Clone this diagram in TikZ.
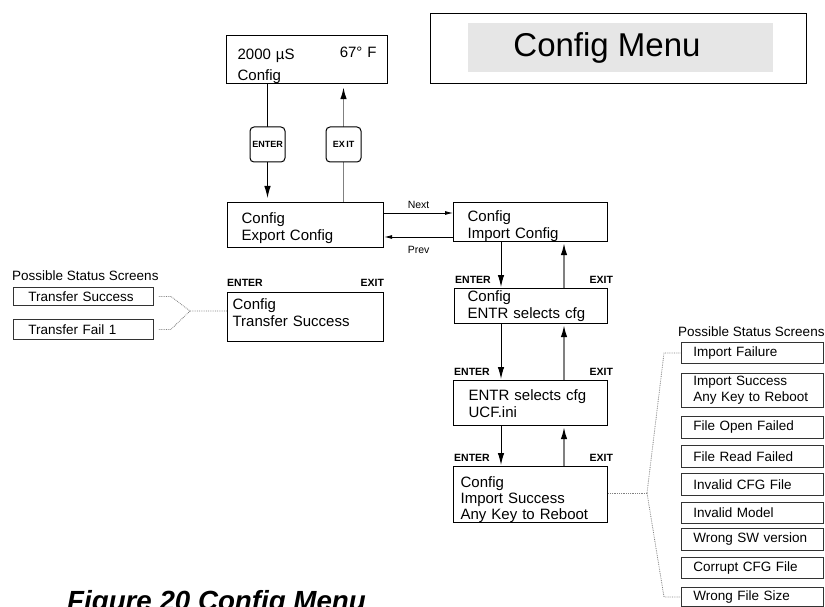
\documentclass[tikz,border=0pt]{standalone}
\usepackage{fontspec}
\setmainfont{Liberation Sans}
\usetikzlibrary{arrows.meta,backgrounds}
\definecolor{gline}{HTML}{808080}
\definecolor{menugray}{HTML}{E6E6E6}
\definecolor{sline}{HTML}{333333}
\newcommand\lowerln[2]{\raisebox{-#1}[\height][\depth]{#2}}
\begin{document}
\begin{tikzpicture}[x=1pt,y=-1pt,
  screen/.style={draw, line width=1.2pt, fill=white, anchor=north west, inner ysep=0pt, align=left, font=\fontsize{15}{17}\selectfont},
  status/.style={draw=sline, line width=0.9pt, fill=white, anchor=north west, inner ysep=0pt, align=left, font=\fontsize{13.5}{16}\selectfont},
  keybox/.style={draw, line width=1pt, fill=white, rounded corners=4pt, minimum width=35, minimum height=35, inner sep=0pt, font=\fontsize{9}{10}\selectfont\bfseries},
  keylbl/.style={inner sep=0pt, font=\fontsize{10.5}{12}\selectfont\bfseries},
  smalllbl/.style={inner sep=0pt, font=\fontsize{10.5}{12}\selectfont},
  title/.style={inner sep=0pt, anchor=west, font=\fontsize{13.5}{16}\selectfont},
  darr/.style={line width=1pt, -{Latex[length=12pt,width=6.5pt]}},
  uarr/.style={gline, line width=1.5pt, -{Latex[length=12pt,width=6.5pt,color=black]}},
  sarr/.style={line width=0.8pt, -{Latex[length=8pt,width=4pt]}},
  dots/.style={densely dotted, gline, line width=0.8pt}
]
\useasboundingbox (0,0) rectangle (825,607);
\clip (0,0) rectangle (825,607);

% Config Menu header
\node[draw, line width=1.2pt, anchor=north west, minimum width=376, minimum height=70, inner sep=0pt] (menuframe) at (430,13) {};
\node[fill=menugray, anchor=north west, minimum width=305, minimum height=49, inner sep=0pt] (menubar) at (468,23) {};
\node[anchor=base, inner sep=0pt, font=\fontsize{33}{36}\selectfont] (menutitle) at (607,57) {Config Menu};

% main screens
\node[screen, minimum width=161, minimum height=48, inner xsep=11pt, text width=139pt, font=\fontsize{15}{21}\selectfont] (top) at (226,35)
  {\lowerln{6pt}{\makebox[139pt]{2000 µS\hfill\raisebox{2pt}{67° F}}}\\\lowerln{6pt}{Config}};
\node[screen, minimum width=156, minimum height=45, inner xsep=14pt, text width=128pt] (exp) at (227,202)
  {\lowerln{3pt}{Config}\\\lowerln{3pt}{Export Config}};
\node[screen, minimum width=154, minimum height=39, inner xsep=14pt, text width=126pt] (imp) at (453,202)
  {\lowerln{4pt}{Config}\\\lowerln{4pt}{Import Config}};
\node[screen, minimum width=156, minimum height=49, inner xsep=5pt, text width=146pt] (tr) at (227,292)
  {\lowerln{-4pt}{Config}\\\lowerln{-4pt}{Transfer Success}};
\node[screen, minimum width=153, minimum height=35, inner xsep=13pt, text width=127pt] (b2) at (454,288)
  {Config\\ENTR selects cfg};
\node[screen, minimum width=154, minimum height=45, inner xsep=15pt, text width=124pt] (b3) at (453,380)
  {\lowerln{1pt}{ENTR selects cfg}\\\lowerln{1pt}{UCF.ini}};
\node[screen, minimum width=154, minimum height=56, inner xsep=7pt, text width=140pt, font=\fontsize{15}{16}\selectfont] (b4) at (453,466)
  {\lowerln{5pt}{Config}\\\lowerln{5pt}{Import Success}\\\lowerln{5pt}{Any Key to Reboot}};

% keys
\node[keybox] (keyE) at (267.5,144.5) {ENTER};
\node[keybox] (keyX) at (343.5,144.5) {EX\,IT};

% ENTER / EXIT labels
\node[keylbl, anchor=base west, yshift=6pt] (trE) at (tr.north west) {ENTER};
\node[keylbl, anchor=base east, yshift=6pt] (trX) at (tr.north east) {EXIT};
\node[keylbl, anchor=base west, yshift=5pt, xshift=1pt] (b2E) at (b2.north west) {ENTER};
\node[keylbl, anchor=base east, yshift=5pt, xshift=5pt] (b2X) at (b2.north east) {EXIT};
\node[keylbl, anchor=base west, yshift=5pt, xshift=1pt] (b3E) at (b3.north west) {ENTER};
\node[keylbl, anchor=base east, yshift=5pt, xshift=5pt] (b3X) at (b3.north east) {EXIT};
\node[keylbl, anchor=base west, yshift=5pt, xshift=1pt] (b4E) at (b4.north west) {ENTER};
\node[keylbl, anchor=base east, yshift=5pt, xshift=5pt] (b4X) at (b4.north east) {EXIT};

% left status screens
\node[title] (ltitle) at (12,276) {Possible Status Screens};
\node[status, minimum width=140, minimum height=18, inner xsep=15pt, text width=110pt] (ts) at (13,287) {Transfer Success};
\node[status, minimum width=140, minimum height=20, inner xsep=15pt, text width=110pt] (tf) at (13,319) {Transfer Fail 1};

% right status screens
\node[title] (rtitle) at (678,332) {Possible Status Screens};
\node[status, minimum width=142, minimum height=21, inner xsep=12pt, text width=118pt] (s1) at (681,342) {Import Failure};
\node[status, minimum width=142, minimum height=34, inner xsep=12pt, text width=118pt] (s2) at (681,373) {Import Success\\Any Key to Reboot};
\node[status, minimum width=142, minimum height=22, inner xsep=12pt, text width=118pt] (s3) at (681,416) {File Open Failed};
\node[status, minimum width=142, minimum height=22, inner xsep=12pt, text width=118pt] (s4) at (681,445) {File Read Failed};
\node[status, minimum width=142, minimum height=22, inner xsep=12pt, text width=118pt] (s5) at (681,473) {Invalid CFG File};
\node[status, minimum width=142, minimum height=21, inner xsep=12pt, text width=118pt] (s6) at (681,502) {Invalid Model};
\node[status, minimum width=142, minimum height=22, inner xsep=12pt, text width=118pt] (s7) at (681,528) {Wrong SW version};
\node[status, minimum width=142, minimum height=21, inner xsep=12pt, text width=118pt] (s8) at (681,557) {Corrupt CFG File};
\node[status, minimum width=142, minimum height=19, inner xsep=12pt, text width=118pt] (s9) at (681,587) {Wrong File Size};

% caption
\node[anchor=base west, inner sep=0pt, font=\fontsize{27.7}{30}\selectfont\bfseries\itshape] (cap) at (67,610) {Figure 20 Config Menu};

% helper coordinates
\coordinate (ny) at (0,213);
\coordinate (py) at (0,237);
\coordinate (cx1) at (501,0);
\coordinate (cx2) at (564,0);
\coordinate (jl) at (190,311);
\coordinate (jr) at (647,493);

\begin{pgfonlayer}{background}
  \draw[darr, shorten >=4pt] (top.south -| keyE) -- (exp.north -| keyE);
  \draw[uarr, shorten >=3pt] (exp.north -| keyX) -- (top.south -| keyX);
\end{pgfonlayer}

% next / prev
\draw[sarr] (exp.east |- ny) -- node[smalllbl, above=4pt] (nextlbl) {Next} (imp.west |- ny);
\draw[sarr] (imp.west |- py) -- node[smalllbl, below=9pt] (prevlbl) {Prev} (exp.east |- py);

% right column
\draw[darr, shorten >=1pt] (imp.south -| cx1) -- (b2.north -| cx1);
\draw[uarr, shorten >=1pt] (b2.north -| cx2) -- (imp.south -| cx2);
\draw[darr, shorten >=1pt] (b2.south -| cx1) -- (b3.north -| cx1);
\draw[uarr, shorten >=1pt] (b3.north -| cx2) -- (b2.south -| cx2);
\draw[darr, shorten >=1pt] (b3.south -| cx1) -- (b4.north -| cx1);
\draw[uarr, shorten >=1pt] (b4.north -| cx2) -- (b3.south -| cx2);

% dotted links
\draw[dots] ([xshift=5pt]ts.east) -- ++(12,0) -- (jl) -- (tr.west |- jl);
\draw[dots] ([xshift=5pt]tf.east) -- ++(12,0) -- (jl);
\draw[dots] (b4.east |- jr) -- (jr);
\draw[dots] (jr) -- ([xshift=-17pt]s1.west) -- (s1.west);
\draw[dots] (jr) -- ([xshift=-17pt]s9.west) -- (s9.west);
\end{tikzpicture}
\end{document}
